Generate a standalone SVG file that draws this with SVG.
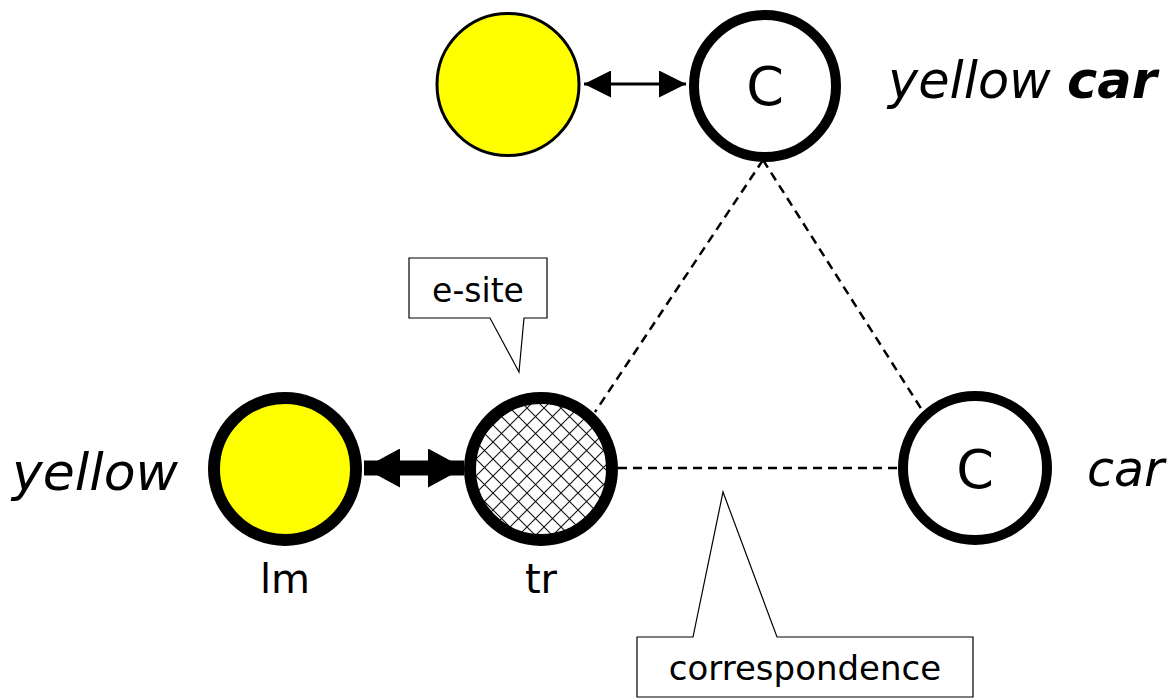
<svg xmlns="http://www.w3.org/2000/svg" width="1172" height="699" viewBox="0 0 1172 699">
<style>
.lbl{font-family:"DejaVu Sans","Open Sans",sans-serif;fill:#000}
.it{font-style:italic}
.dash{stroke:#000;stroke-width:2.5;stroke-dasharray:9 6;fill:none}
.call{fill:#fff;stroke:#000;stroke-width:1.2}
</style>
<defs>
<pattern id="hatch" width="17" height="17" patternUnits="userSpaceOnUse">
<path d="M0,0 L17,17 M17,0 L0,17" stroke="#111" stroke-width="1.1"/>
</pattern>
<marker id="ah" viewBox="0 0 10 10" refX="10" refY="5" markerWidth="9" markerHeight="9" orient="auto-start-reverse" markerUnits="strokeWidth">
<path d="M0,0 L10,5 L0,10 Z" fill="#000"/>
</marker>
<marker id="ah2" viewBox="0 0 10 10" refX="10" refY="5" markerWidth="2.4" markerHeight="2.6" orient="auto-start-reverse" markerUnits="strokeWidth" preserveAspectRatio="none">
<path d="M0,0 L10,5 L0,10 Z" fill="#000"/>
</marker>
</defs>
<g id="connectors">
<line class="dash" x1="763" y1="160" x2="595" y2="412"/>
<line class="dash" x1="763" y1="160" x2="922" y2="410"/>
<line class="dash" x1="618" y1="468" x2="897" y2="468"/>
<line x1="584" y1="84" x2="686" y2="84" stroke="#000" stroke-width="3" marker-start="url(#ah)" marker-end="url(#ah)"/>
<line x1="364" y1="468" x2="464" y2="468" stroke="#000" stroke-width="15" marker-start="url(#ah2)" marker-end="url(#ah2)"/>
</g>
<g id="node-yellow-top">
<circle cx="508" cy="84.5" r="71" fill="#ffff00" stroke="#000" stroke-width="3"/>
</g>
<g id="node-c-top">
<circle cx="765" cy="86" r="71" fill="#fff" stroke="#000" stroke-width="10"/>
<text class="lbl" x="765" y="105" font-size="54" text-anchor="middle">C</text>
</g>
<text class="lbl it" x="888" y="98" font-size="51">yellow <tspan font-weight="bold">car</tspan></text>
<g id="node-lm">
<circle cx="285" cy="469" r="71" fill="#ffff00" stroke="#000" stroke-width="12"/>
<text class="lbl" x="285" y="593" font-size="40" text-anchor="middle">lm</text>
</g>
<text class="lbl it" x="12" y="490" font-size="52">yellow</text>
<g id="node-tr">
<circle cx="541" cy="469" r="71" fill="#fff" stroke="none"/>
<circle cx="541" cy="469" r="71" fill="url(#hatch)" stroke="#000" stroke-width="12"/>
<text class="lbl" x="541" y="593" font-size="40" text-anchor="middle">tr</text>
</g>
<g id="node-c-bottom">
<circle cx="975" cy="468" r="72" fill="#fff" stroke="#000" stroke-width="10"/>
<text class="lbl" x="975" y="488" font-size="54" text-anchor="middle">C</text>
</g>
<text class="lbl it" x="1087" y="486" font-size="49">car</text>
<g id="callout-esite">
<path class="call" d="M409,258 H547 V318 H524 L519,372 L490,318 H409 Z"/>
<text class="lbl" x="478" y="302" font-size="33" text-anchor="middle">e-site</text>
</g>
<g id="callout-correspondence">
<path class="call" d="M637,637 H693 L723,492 L777,637 H973 V697 H637 Z"/>
<text class="lbl" x="805" y="680" font-size="34" text-anchor="middle">correspondence</text>
</g>
</svg>
